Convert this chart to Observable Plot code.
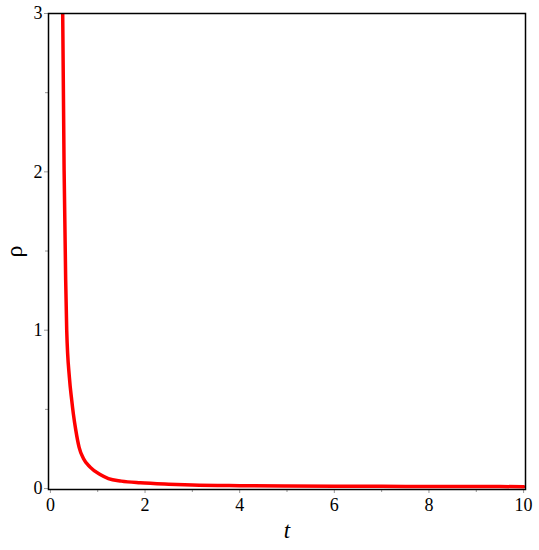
<!DOCTYPE html>
<html>
<head>
<meta charset="utf-8">
<script src="https://cdn.jsdelivr.net/npm/d3@7"></script>
<script src="https://cdn.jsdelivr.net/npm/@observablehq/plot@0.6"></script>
<style>
  html, body { margin: 0; padding: 0; background: #fff; }
  #chart svg { display: block; font-family: "Liberation Serif", "Times New Roman", serif !important; font-size: 18px !important; }
  #chart svg text { font-family: "Liberation Serif", "Times New Roman", serif !important; font-size: 18px !important; fill: #000; }
  #chart g[aria-label="x-axis label"] text { font-style: italic; font-size: 23px !important; }
  #chart g[aria-label="y-axis label"] text { font-size: 24px !important; }
</style>
</head>
<body>
<div id="chart"></div>
<script>
const tValues = [0.26, 0.29, 0.323, 0.345, 0.402, 0.45, 0.486, 0.535, 0.607, 0.698, 0.839, 1.051, 1.226, 1.5, 1.9, 2.5, 3, 4, 5, 6, 7, 8, 9, 10];
const rhoValues = [3.0, 2.01, 1.317, 1.0, 0.70, 0.56, 0.47, 0.372, 0.26, 0.19, 0.135, 0.088, 0.063, 0.047, 0.036, 0.027, 0.022, 0.018, 0.016, 0.015, 0.014, 0.013, 0.0125, 0.012];
const xMajorTicks = [0, 2, 4, 6, 8, 10];
const xMinorTicks = [1, 3, 5, 7, 9];
const yMajorTicks = [0, 1, 2, 3];
const yMinorTicks = [0.5, 1.5, 2.5];

const data = tValues.map((t, i) => ({t, rho: rhoValues[i]}));

const chart = Plot.plot({
  width: 539,
  height: 550,
  marginLeft: 48,
  marginTop: 13,
  marginRight: 14,
  marginBottom: 61,
  x: {domain: [-0.04, 10.04]},
  y: {domain: [-0.006, 3]},
  marks: [
    Plot.axisX({ticks: xMinorTicks, tickSize: 3, text: null, label: null, stroke: "#999"}),
    Plot.axisX({ticks: xMajorTicks, tickSize: 4, tickPadding: 5, tickFormat: "d", stroke: "#999", label: "t", labelAnchor: "center", labelArrow: "none", labelOffset: 48, fill: "#000"}),
    Plot.axisY({ticks: yMinorTicks, tickSize: 3, text: null, label: null, stroke: "#999"}),
    Plot.axisY({ticks: yMajorTicks, tickSize: 4, tickPadding: 2, tickFormat: "d", stroke: "#999", label: "ρ", labelAnchor: "center", labelArrow: "none", labelOffset: 44, fill: "#000"}),
    Plot.line(data, {x: "t", y: "rho", stroke: "#ff0000", strokeWidth: 3.5, curve: "monotone-x", clip: true}),
    Plot.frame({stroke: "#000", strokeWidth: 1.5})
  ]
});
document.getElementById("chart").appendChild(chart);
</script>
</body>
</html>
